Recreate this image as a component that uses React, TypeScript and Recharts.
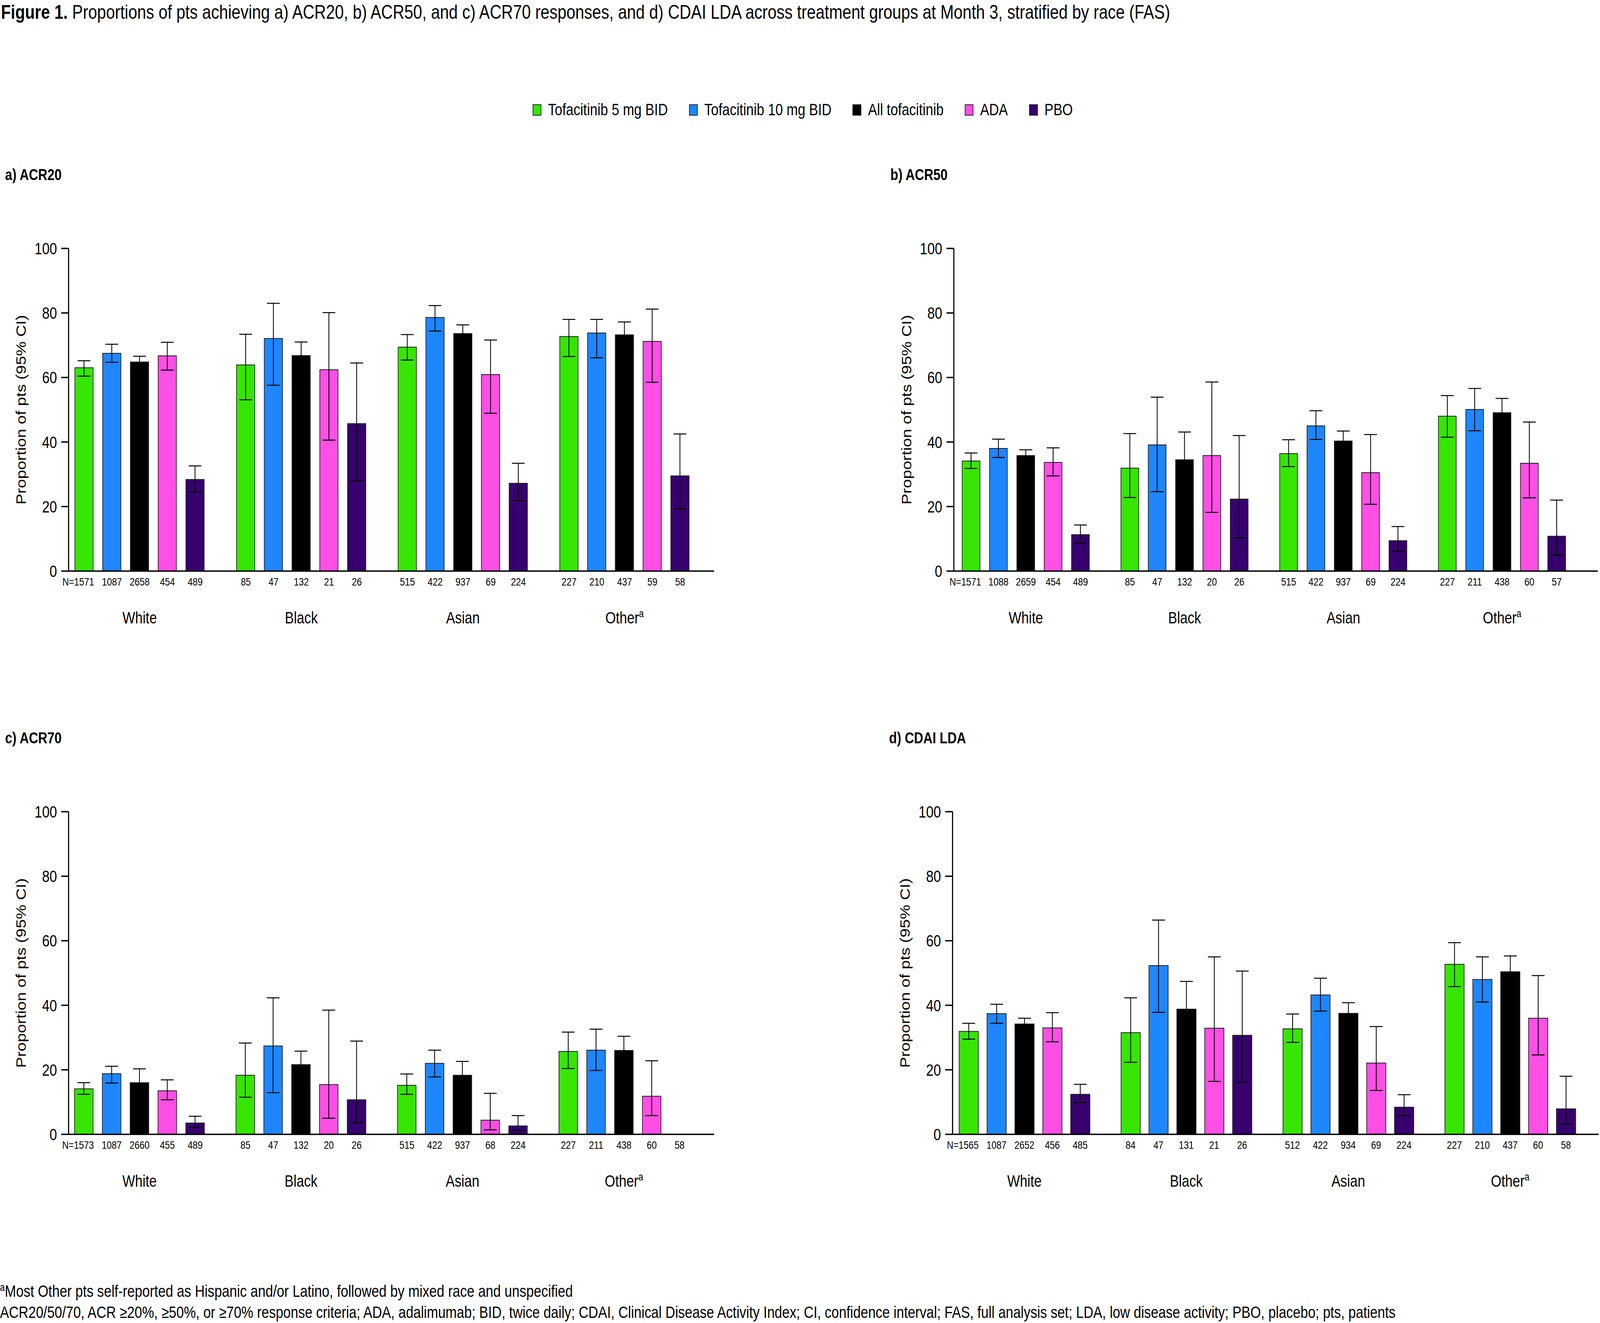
import React from 'react';
import { BarChart, Bar, XAxis, YAxis, ErrorBar } from 'recharts';

const FONT = '"Liberation Sans", Arial, Helvetica, sans-serif';

// ---------- categories / series ----------
const RACES = ['White', 'Black', 'Asian', 'Other'];
const SERIES_KEYS = ['t5', 't10', 'all', 'ada', 'pbo'];
const SERIES_NAMES = ['Tofacitinib 5 mg BID', 'Tofacitinib 10 mg BID', 'All tofacitinib', 'ADA', 'PBO'];
const SERIES_COLORS = ['#36E600', '#1E86FF', '#000000', '#FF4FE5', '#36006E'];
const Y_TICKS = [0, 20, 40, 60, 80, 100];

// rows = series (T5, T10, All, ADA, PBO); columns = race (White, Black, Asian, Other)
// ---------- a) ACR20 ----------
const ACR20_VALUES = [
  [63.0, 63.9, 69.4, 72.7],
  [67.5, 72.1, 78.6, 73.8],
  [64.8, 66.8, 73.6, 73.2],
  [66.7, 62.4, 60.9, 71.2],
  [28.4, 45.7, 27.2, 29.5],
];
const ACR20_LOWER = [
  [60.4, 53.1, 65.4, 66.5],
  [64.7, 57.6, 74.4, 66.1],
  [63.0, 62.4, 70.9, 69.2],
  [62.3, 40.6, 48.9, 58.5],
  [24.5, 28.0, 21.8, 19.2],
];
const ACR20_UPPER = [
  [65.2, 73.4, 73.3, 78.0],
  [70.3, 83.0, 82.3, 78.0],
  [66.6, 71.0, 76.3, 77.2],
  [70.9, 80.1, 71.6, 81.2],
  [32.6, 64.5, 33.4, 42.5],
];
const ACR20_N = [
  [1571, 85, 515, 227],
  [1087, 47, 422, 210],
  [2658, 132, 937, 437],
  [454, 21, 69, 59],
  [489, 26, 224, 58],
];

// ---------- b) ACR50 ----------
const ACR50_VALUES = [
  [34.1, 31.9, 36.4, 48.0],
  [38.0, 39.1, 45.0, 50.1],
  [35.8, 34.5, 40.3, 49.1],
  [33.7, 35.8, 30.5, 33.4],
  [11.3, 22.3, 9.4, 10.8],
];
const ACR50_LOWER = [
  [31.8, 22.8, 32.4, 41.5],
  [35.2, 24.6, 40.8, 43.5],
  [34.0, 26.4, 37.2, 44.7],
  [29.5, 18.2, 20.7, 22.7],
  [8.7, 10.3, 6.1, 4.9],
];
const ACR50_UPPER = [
  [36.6, 42.6, 40.7, 54.4],
  [40.9, 53.9, 49.7, 56.6],
  [37.6, 43.1, 43.4, 53.5],
  [38.2, 58.6, 42.3, 46.2],
  [14.3, 42.0, 13.8, 22.0],
];
const ACR50_N = [
  [1571, 85, 515, 227],
  [1088, 47, 422, 211],
  [2659, 132, 937, 438],
  [454, 20, 69, 60],
  [489, 26, 224, 57],
];

// ---------- c) ACR70 ----------
const ACR70_VALUES = [
  [14.1, 18.3, 15.2, 25.7],
  [18.8, 27.4, 22.0, 26.1],
  [16.0, 21.6, 18.3, 26.0],
  [13.5, 15.4, 4.4, 11.8],
  [3.5, 10.7, 2.6, 0],
];
const ACR70_LOWER = [
  [12.4, 11.5, 12.4, 20.4],
  [15.9, 12.9, 17.8, 19.8],
  [14.6, 17.4, 16.0, 21.6],
  [10.7, 5.0, 1.4, 5.8],
  [2.2, 3.6, 1.2, null],
];
const ACR70_UPPER = [
  [16.0, 28.3, 18.7, 31.7],
  [21.1, 42.3, 26.1, 32.6],
  [20.3, 25.8, 22.6, 30.4],
  [16.9, 38.5, 12.7, 22.8],
  [5.6, 28.9, 5.8, null],
];
const ACR70_N = [
  [1573, 85, 515, 227],
  [1087, 47, 422, 211],
  [2660, 132, 937, 438],
  [455, 20, 68, 60],
  [489, 26, 224, 58],
];

// ---------- d) CDAI LDA ----------
const CDAI_VALUES = [
  [31.9, 31.5, 32.7, 52.7],
  [37.4, 52.3, 43.2, 48.0],
  [34.2, 38.8, 37.5, 50.4],
  [33.0, 32.9, 22.1, 36.0],
  [12.4, 30.7, 8.4, 7.9],
];
const CDAI_LOWER = [
  [29.5, 22.3, 28.5, 45.8],
  [34.4, 37.8, 38.2, 41.0],
  [32.4, 30.2, 34.2, 45.5],
  [28.7, 16.4, 13.6, 24.6],
  [9.8, 16.1, 5.8, 3.2],
];
const CDAI_UPPER = [
  [34.4, 42.3, 37.3, 59.4],
  [40.3, 66.4, 48.4, 55.0],
  [36.0, 47.4, 40.8, 55.3],
  [37.7, 55.0, 33.4, 49.2],
  [15.5, 50.6, 12.3, 18.0],
];
const CDAI_N = [
  [1565, 84, 512, 227],
  [1087, 47, 422, 210],
  [2652, 131, 934, 437],
  [456, 21, 69, 60],
  [485, 26, 224, 58],
];

const TITLE_BOLD = 'Figure 1.';
const TITLE_REST =
  ' Proportions of pts achieving a) ACR20, b) ACR50, and c) ACR70 responses, and d) CDAI LDA across treatment groups at Month 3, stratified by race (FAS)';
const Y_LABEL = 'Proportion of pts (95% CI)';
const FOOTNOTE_1 = 'Most Other pts self-reported as Hispanic and/or Latino, followed by mixed race and unspecified';
const FOOTNOTE_2 =
  'ACR20/50/70, ACR \u226520%, \u226550%, or \u226570% response criteria; ADA, adalimumab; BID, twice daily; CDAI, Clinical Disease Activity Index; CI, confidence interval; FAS, full analysis set; LDA, low disease activity; PBO, placebo; pts, patients';

type PanelCfg = {
  title: string;
  values: number[][];
  lower: (number | null)[][];
  upper: (number | null)[][];
  n: number[][];
  left: number;
  top: number;
  width: number;
  marginRight: number;
  barSize: number;
  barGap: number;
  padL: number;
  padR: number;
};

const PANELS: PanelCfg[] = [
  { title: 'a) ACR20', values: ACR20_VALUES, lower: ACR20_LOWER, upper: ACR20_UPPER, n: ACR20_N,
    left: 0, top: 536, width: 2300, marginRight: 72, barSize: 57, barGap: 29.6, padL: -30.4, padR: 27.2 },
  { title: 'b) ACR50', values: ACR50_VALUES, lower: ACR50_LOWER, upper: ACR50_UPPER, n: ACR50_N,
    left: 2762, top: 536, width: 2230, marginRight: 7, barSize: 55.5, barGap: 29.8, padL: -23, padR: 50.8 },
  { title: 'c) ACR70', values: ACR70_VALUES, lower: ACR70_LOWER, upper: ACR70_UPPER, n: ACR70_N,
    left: 0, top: 1978, width: 2300, marginRight: 72, barSize: 58, barGap: 28.8, padL: -30.5, padR: 29.3 },
  { title: 'd) CDAI LDA', values: CDAI_VALUES, lower: CDAI_LOWER, upper: CDAI_UPPER, n: CDAI_N,
    left: 2758, top: 1978, width: 2234, marginRight: 4, barSize: 60, barGap: 27, padL: -28.5, padR: 23.7 },
];

const PAGE_W = 4992;
const PAGE_H = 3387;
const M_TOP = 100;
const PLOT_H = 826;
const X_AXIS_H = 170;
const M_BOTTOM = 20;
const CHART_H = M_TOP + PLOT_H + X_AXIS_H + M_BOTTOM;
const M_LEFT = 20;
const Y_AXIS_W = 194;
const N_FONT = 28;
const DIGIT_W = 0.556;

// X-axis tick: race name, plus the N of each bar in that group (placed at each bar's centre)
const makeRaceTick = (cfg: PanelCfg) => (props: any) => {
  const { x, y, payload } = props;
  const r = typeof props.index === 'number' ? props.index : payload.index;
  const label = String(payload.value);
  const pitch = cfg.barSize + cfg.barGap;
  return (
    <g>
      {SERIES_KEYS.map((k, s) => {
        const cx = x + (s - 2) * pitch;
        const txt = String(cfg.n[s][r]);
        if (s === 0 && r === 0) {
          const numW = txt.length * DIGIT_W * N_FONT;
          return (
            <text key={k} x={cx + numW / 2} y={y + 35} textAnchor="end" fontSize={N_FONT} fill="#000" fontFamily={FONT}>
              {'N=' + txt}
            </text>
          );
        }
        return (
          <text key={k} x={cx} y={y + 35} textAnchor="middle" fontSize={N_FONT} fill="#000" fontFamily={FONT}>
            {txt}
          </text>
        );
      })}
      <text x={x} y={y + 132} textAnchor="middle" fontSize={42} fill="#000" fontFamily={FONT}>
        {label === 'Other' ? (
          <>
            <tspan>Other</tspan>
            <tspan dy={-16} fontSize={27}>a</tspan>
          </>
        ) : (
          label
        )}
      </text>
    </g>
  );
};

function Panel({ cfg }: { cfg: PanelCfg }) {
  const data = RACES.map((race, r) => {
    const row: any = { race };
    SERIES_KEYS.forEach((k, s) => {
      const v = cfg.values[s][r];
      const lo = cfg.lower[s][r];
      const hi = cfg.upper[s][r];
      row[k] = v;
      row[k + 'Err'] = lo == null || hi == null ? null : [v - lo, hi - v];
    });
    return row;
  });
  const RaceTick = makeRaceTick(cfg);
  return (
    <div style={{ position: 'absolute', left: cfg.left, top: cfg.top }}>
      <BarChart
        width={cfg.width}
        height={CHART_H}
        data={data}
        margin={{ top: M_TOP, right: cfg.marginRight, bottom: M_BOTTOM, left: M_LEFT }}
        barGap={cfg.barGap}
        barSize={cfg.barSize}
      >
        <XAxis
          dataKey="race"
          interval={0}
          tickSize={0}
          tickLine={false}
          tick={(p: any) => <RaceTick {...p} />}
          axisLine={{ stroke: '#000', strokeWidth: 3.5 }}
          padding={{ left: cfg.padL, right: cfg.padR }}
          height={X_AXIS_H}
        />
        <YAxis
          type="number"
          domain={[0, 100]}
          ticks={Y_TICKS}
          interval={0}
          width={Y_AXIS_W}
          tickSize={23}
          tickMargin={13}
          axisLine={{ stroke: '#000', strokeWidth: 3.5 }}
          tickLine={{ stroke: '#000', strokeWidth: 3.5 }}
          tick={{ fontSize: 42, fill: '#000', fontFamily: FONT }}
          label={{
            value: Y_LABEL,
            angle: -90,
            position: 'insideLeft',
            offset: 46,
            style: { textAnchor: 'middle', fontSize: 42, fill: '#000', fontFamily: FONT },
          }}
        />
        {SERIES_KEYS.map((k, s) => (
          <Bar
            key={k}
            dataKey={k}
            name={SERIES_NAMES[s]}
            fill={SERIES_COLORS[s]}
            stroke="#1a1a1a"
            strokeWidth={2}
            barSize={cfg.barSize}
            isAnimationActive={false}
          >
            <ErrorBar dataKey={k + 'Err'} width={20} strokeWidth={2.5} stroke="#000" direction="y" />
          </Bar>
        ))}
      </BarChart>
    </div>
  );
}

export default function App() {
  // The layout is authored at 4992 x 3387; fit it to the actual viewport if it is smaller.
  const iw = typeof window !== 'undefined' ? window.innerWidth : PAGE_W;
  const ih = typeof window !== 'undefined' ? window.innerHeight : PAGE_H;
  const kx = iw > 0 && iw < PAGE_W ? iw / PAGE_W : 1;
  const ky = ih > 0 && ih < PAGE_H ? ih / PAGE_H : 1;
  return (
    <div style={{ position: 'absolute', left: 0, top: 0, width: PAGE_W * kx, height: PAGE_H * ky, overflow: 'hidden', background: '#fff' }}>
      <div
        style={{
          position: 'absolute',
          left: 0,
          top: 0,
          width: PAGE_W,
          height: PAGE_H,
          background: '#fff',
          overflow: 'hidden',
          fontFamily: FONT,
          color: '#000',
          transform: `scale(${kx}, ${ky})`,
          transformOrigin: '0 0',
        }}
      >
        <svg width={PAGE_W} height={PAGE_H} style={{ position: 'absolute', left: 0, top: 0 }}>
          <text x={3} y={48} fontSize={50} fontFamily={FONT} fill="#000">
            <tspan fontWeight="bold">{TITLE_BOLD}</tspan>
            <tspan>{TITLE_REST}</tspan>
          </text>
          {PANELS.map((p) => (
            <text
              key={p.title}
              x={p.left + M_LEFT + Y_AXIS_W - 198}
              y={p.top + M_TOP - 175}
              fontSize={40}
              fontWeight="bold"
              fontFamily={FONT}
              fill="#000"
            >
              {p.title}
            </text>
          ))}
          <text x={0} y={3320} fontSize={42.2} fontFamily={FONT} fill="#000">
            <tspan fontSize={27} dy={-15}>a</tspan>
            <tspan dy={15}>{FOOTNOTE_1}</tspan>
          </text>
          <text x={0} y={3374} fontSize={42} fontFamily={FONT} fill="#000">
            {FOOTNOTE_2}
          </text>
        </svg>

        <div
          style={{
            position: 'absolute',
            left: 1662,
            top: 260,
            display: 'flex',
            alignItems: 'center',
            height: 42,
            fontSize: 42,
          }}
        >
          {SERIES_NAMES.map((name, i) => (
            <div key={name} style={{ display: 'flex', alignItems: 'center', marginRight: 66 }}>
              <div
                style={{
                  width: 27,
                  height: 29,
                  background: SERIES_COLORS[i],
                  border: '2.5px solid #222',
                  boxSizing: 'border-box',
                  marginRight: 21,
                }}
              />
              <span style={{ lineHeight: '42px', whiteSpace: 'nowrap' }}>{name}</span>
            </div>
          ))}
        </div>

        {PANELS.map((p) => (
          <Panel key={p.title} cfg={p} />
        ))}
      </div>
    </div>
  );
}
